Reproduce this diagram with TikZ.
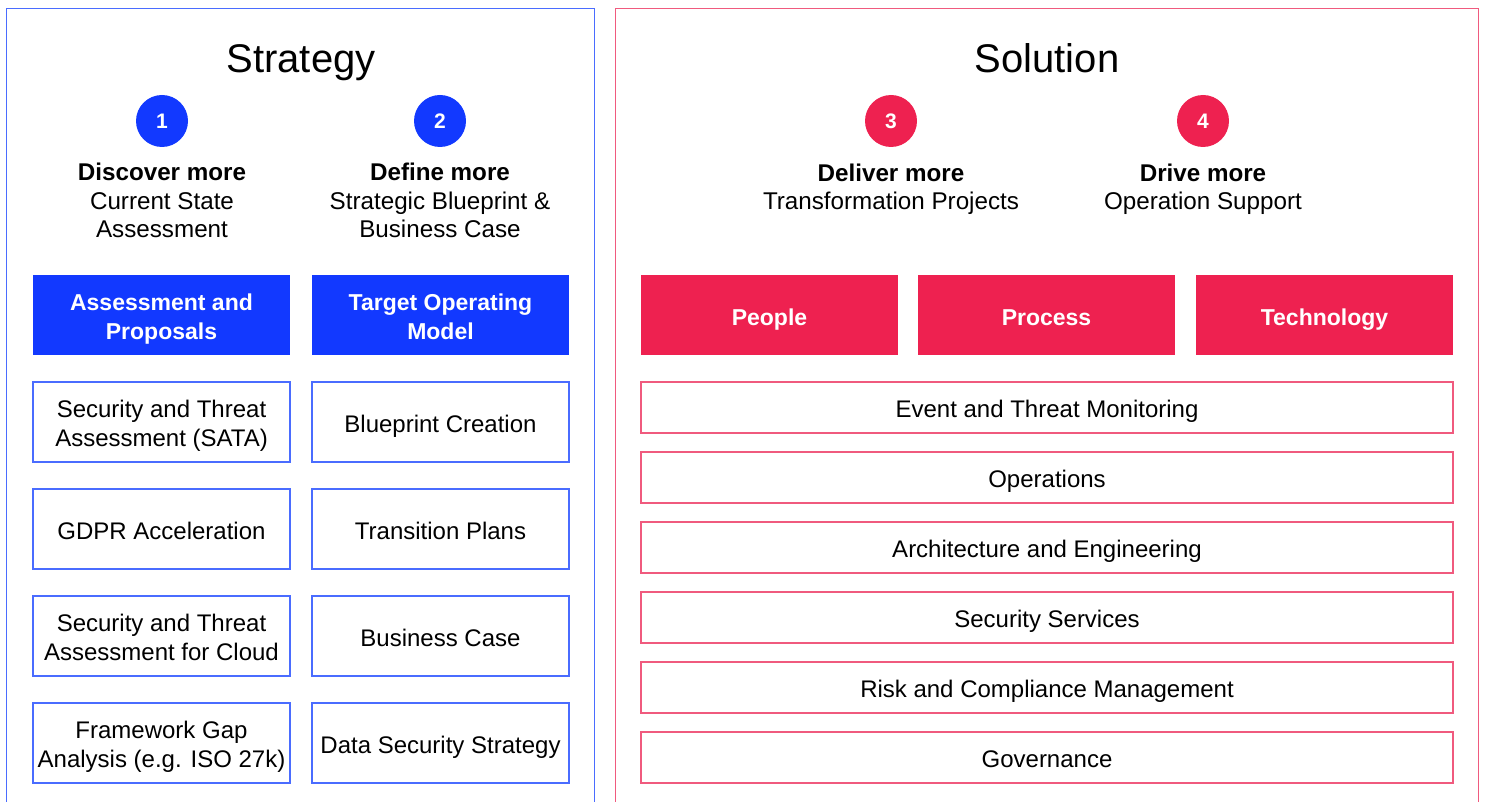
\documentclass[tikz,border=0pt]{standalone}
\usepackage{fontspec}
\setmainfont{Liberation Sans}
\definecolor{sblue}{HTML}{1239FF}
\definecolor{sred}{HTML}{EE2150}
\definecolor{bblue}{HTML}{4A6CFF}
\definecolor{bred}{HTML}{F05A7E}
\newcommand\sqt{\rule{0pt}{25.5pt}}
\newcommand\sqb{\rule[-5.5pt]{0pt}{5.5pt}}
\begin{document}
\begin{tikzpicture}[x=1pt,y=-1pt,
  num/.style={circle, fill=#1, minimum size=52pt, inner sep=0pt, text=white, font=\fontsize{21}{24}\selectfont\bfseries},
  head/.style={fill=#1, text=white, font=\fontsize{23}{28.5}\selectfont\bfseries, align=center, minimum width=257pt, minimum height=80pt, inner sep=0pt},
  item/.style={draw=#1, line width=1.5pt, fill=white, font=\fontsize{24}{28.5}\selectfont, align=center, minimum width=257pt, minimum height=80pt, inner sep=0pt},
  wide/.style={draw=bred, line width=1.5pt, fill=white, font=\fontsize{24}{28.5}\selectfont, align=center, minimum width=812pt, minimum height=51pt, inner sep=0pt},
  title/.style={font=\fontsize{40}{46}\selectfont, anchor=base},
  sub/.style={font=\fontsize{24.2}{28.5}\selectfont, align=center}]
\useasboundingbox (0,0) rectangle (1485,802);
% frames
\draw[bblue, line width=1pt] (6.5,802) |- (594.5,8.5) -- (594.5,802);
\draw[bred, line width=1pt] (615.5,802) |- (1478.5,8.5) -- (1478.5,802);
% titles
\node[title] (tstrat) at (301,73) {Strategy};
\node[title] (tsol) at (1047,73) {Solution};
% numbers
\node[num=sblue] (n1) at (162,121) {1};
\node[num=sblue] (n2) at (440,121) {2};
\node[num=sred] (n3) at (891,121) {3};
\node[num=sred] (n4) at (1203,121) {4};
% subtitles
\node[sub] (s1) at (162,199.5) {\sqt\textbf{Discover more}\\Current State\\Assessment\sqb};
\node[sub] (s2) at (440,199.5) {\sqt\textbf{Define more}\\Strategic Blueprint \&\\Business Case\sqb};
\node[sub] (s3) at (891,185.5) {\sqt\textbf{Deliver more}\\Transformation Projects\sqb};
\node[sub] (s4) at (1203,185.5) {\sqt\textbf{Drive more}\\Operation Support\sqb};
% blue headers
\node[head=sblue] (h1) at (161.5,315) {\sqt Assessment and\\Proposals\sqb};
\node[head=sblue] (h2) at (440.5,315) {\sqt Target Operating\\Model\sqb};
% blue items
\node[item=bblue] (a1) at (161.5,422) {\sqt Security and Threat\\Assessment (SATA)\sqb};
\node[item=bblue] (a2) at (161.5,529) {\sqt GDPR Acceleration\sqb};
\node[item=bblue] (a3) at (161.5,636) {\sqt Security and Threat\\Assessment for Cloud\sqb};
\node[item=bblue] (a4) at (161.5,743) {\sqt Framework Gap\\Analysis (e.g. ISO 27k)\sqb};
\node[item=bblue] (b1) at (440.5,422) {\sqt Blueprint Creation\sqb};
\node[item=bblue] (b2) at (440.5,529) {\sqt Transition Plans\sqb};
\node[item=bblue] (b3) at (440.5,636) {\sqt Business Case\sqb};
\node[item=bblue] (b4) at (440.5,743) {\sqt Data Security Strategy\sqb};
% red headers
\node[head=sred] (r1) at (769.5,315) {\sqt People\sqb};
\node[head=sred] (r2) at (1046.5,315) {\sqt Process\sqb};
\node[head=sred] (r3) at (1324.5,315) {\sqt Technology\sqb};
% red items
\node[wide] (w1) at (1047,407.5) {\sqt Event and Threat Monitoring\sqb};
\node[wide] (w2) at (1047,477.5) {\sqt Operations\sqb};
\node[wide] (w3) at (1047,547.5) {\sqt Architecture and Engineering\sqb};
\node[wide] (w4) at (1047,617.5) {\sqt Security Services\sqb};
\node[wide] (w5) at (1047,687.5) {\sqt Risk and Compliance Management\sqb};
\node[wide] (w6) at (1047,757.5) {\sqt Governance\sqb};
\end{tikzpicture}
\end{document}
